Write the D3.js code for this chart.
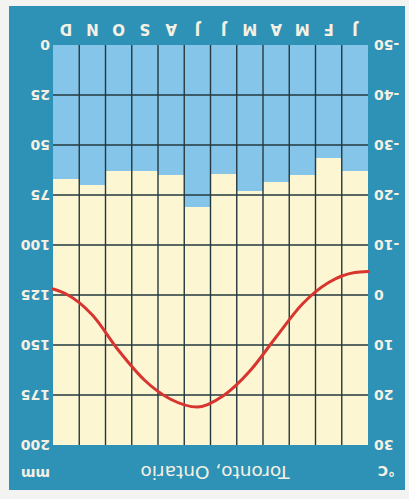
<!DOCTYPE html>
<html><head><meta charset="utf-8">
<script src="https://cdn.jsdelivr.net/npm/d3@7"></script>
<style>html,body{margin:0;padding:0;background:#f3f3f1;}svg{display:block;}</style>
</head><body>
<script>
const months = ["J","F","M","A","M","J","J","A","S","O","N","D"];
const precip = [63, 56.5, 65, 68.5, 73, 64.5, 81, 65, 63, 63, 70, 67];
const temp = [-4.5, -2.5, 1.8, 8.4, 15.2, 20.1, 22.4, 20.9, 17.1, 11.1, 4.0, -0.2];
const tempYearStart = -4.7, tempYearEnd = -1.2;
const precipTicks = [0,25,50,75,100,125,150,175,200];
const tempTicks = [-50,-40,-30,-20,-10,0,10,20,30];
const title = "Toronto, Ontario";

const W = 409, H = 499;
const svg = d3.select("body").append("svg").attr("width", W).attr("height", H);
svg.append("rect").attr("width", W).attr("height", H).attr("fill", "#f3f3f1");
// whole chart is shown rotated by 180 degrees
const g = svg.append("g").attr("transform", `rotate(180, ${W/2}, ${H/2})`);

g.append("rect").attr("x", 4).attr("y", 9).attr("width", 396).attr("height", 484).attr("fill", "#2e92b7");

const L = 41, R = 356, T = 54, B = 454;
const x = d3.scaleBand().domain(d3.range(12)).range([L, R]).padding(0);
const yP = d3.scaleLinear().domain([0, 200]).range([B, T]);
const yT = d3.scaleLinear().domain([-50, 30]).range([B, T]);

g.append("rect").attr("x", L).attr("y", T).attr("width", R - L).attr("height", B - T).attr("fill", "#fcf6d3");

g.selectAll(".bar").data(precip).join("rect")
  .attr("x", (d, i) => x(i)).attr("width", x.bandwidth())
  .attr("y", d => yP(d)).attr("height", d => yP(0) - yP(d))
  .attr("fill", "#86c5ea");

// grid
const grid = g.append("g").attr("stroke", "#24393f").attr("stroke-width", 1.4);
grid.selectAll(".v").data(d3.range(1, 12)).join("line")
  .attr("x1", i => x(i)).attr("x2", i => x(i)).attr("y1", T).attr("y2", B);
grid.selectAll(".h").data(precipTicks.slice(1, -1)).join("line")
  .attr("x1", L).attr("x2", R).attr("y1", d => yP(d)).attr("y2", d => yP(d));

// temperature line
const pts = [[L, tempYearStart]].concat(temp.map((t, i) => [x(i) + x.bandwidth() / 2, t])).concat([[R, tempYearEnd]]);
g.append("path").datum(pts)
  .attr("d", d3.line().x(d => d[0]).y(d => yT(d[1])).curve(d3.curveMonotoneX))
  .attr("fill", "none").attr("stroke", "#d9352f").attr("stroke-width", 3).attr("stroke-linecap", "round");

const txt = "#f4f1e4";
const font = "DejaVu Sans, sans-serif";
// precip axis (right)
g.selectAll(".pt").data(precipTicks).join("text")
  .attr("x", 359).attr("y", d => yP(d)).attr("dy", "0.36em")
  .attr("text-anchor", "start").attr("font-family", font).attr("font-weight", "bold")
  .attr("font-size", 14).attr("fill", txt).text(d => d);
// temp axis (left)
g.selectAll(".tt").data(tempTicks).join("text")
  .attr("x", 35).attr("y", d => yT(d)).attr("dy", "0.36em")
  .attr("text-anchor", "end").attr("font-family", font).attr("font-weight", "bold")
  .attr("font-size", 14).attr("fill", txt).text(d => d);
// months
g.selectAll(".m").data(months).join("text")
  .attr("x", (d, i) => x(i) + x.bandwidth() / 2).attr("y", 470).attr("dy", "0.36em")
  .attr("text-anchor", "middle").attr("font-family", font).attr("font-weight", "bold")
  .attr("font-size", 15).attr("fill", txt).text(d => d);
// units and title
g.append("text").attr("x", 14).attr("y", 28).attr("dy", "0.36em").attr("font-family", font)
  .attr("font-weight", "bold").attr("font-size", 14).attr("fill", txt).text("°C");
g.append("text").attr("x", 359).attr("y", 25).attr("dy", "0.36em").attr("font-family", font)
  .attr("font-weight", "bold").attr("font-size", 14).attr("fill", txt).text("mm");
g.append("text").attr("x", 194).attr("y", 26).attr("dy", "0.36em").attr("text-anchor", "middle")
  .attr("font-family", font).attr("font-size", 18.5).attr("fill", txt).text(title);
</script>
</body></html>
